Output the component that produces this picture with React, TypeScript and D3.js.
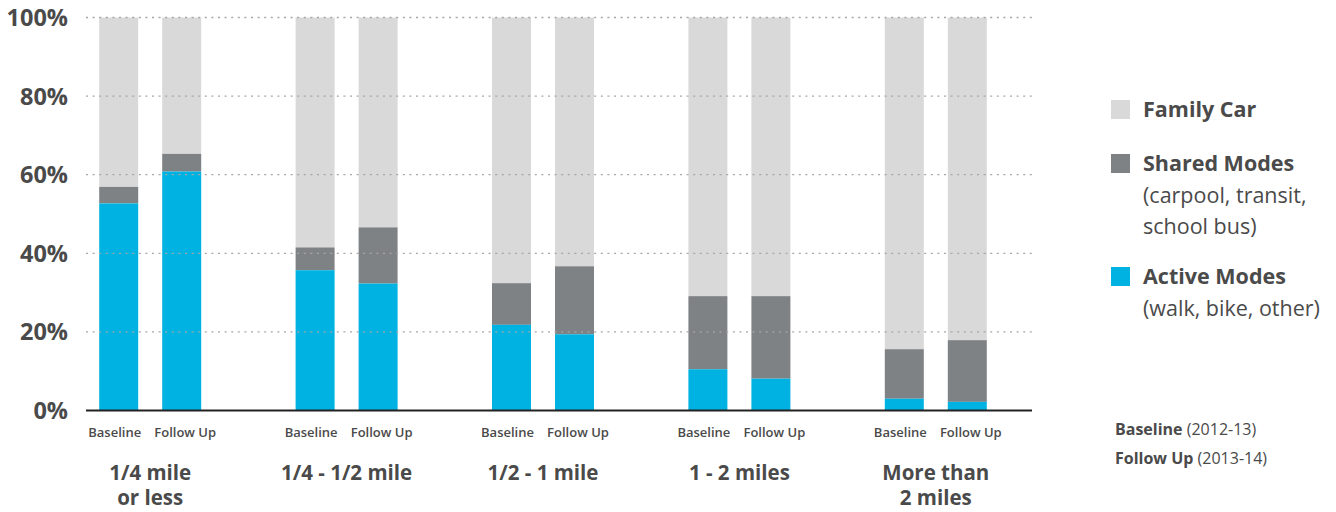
import React from "react";
import * as d3 from "d3";

const categories = ["1/4 mile\nor less", "1/4 - 1/2 mile", "1/2 - 1 mile", "1 - 2 miles", "More than\n2 miles"];
const periods = ["Baseline", "Follow Up"];
// percentages per category: [baseline, follow up]
const activeModes = [[52.7, 60.8], [35.7, 32.3], [21.8, 19.4], [10.5, 8.1], [3.0, 2.2]];
const sharedModes = [[4.2, 4.5], [5.8, 14.3], [10.6, 17.3], [18.6, 21.0], [12.6, 15.7]];
const yTicks = [0, 20, 40, 60, 80, 100];
const legendItems = [
  { key: "car", title: "Family Car", sub: [] as string[] },
  { key: "shared", title: "Shared Modes", sub: ["(carpool, transit,", "school bus)"] },
  { key: "active", title: "Active Modes", sub: ["(walk, bike, other)"] },
];
const periodNotes = [["Baseline", "(2012-13)"], ["Follow Up", "(2013-14)"]];

const COLORS: Record<string, string> = { car: "#d9d9d9", shared: "#7f8285", active: "#00b2e1" };
const TEXT = "#4a4a4a";
const FONT = "'Open Sans', 'Noto Sans', sans-serif";

export default function App() {
  const W = 1336, H = 512;
  const y = d3.scaleLinear().domain([0, 100]).range([410.5, 17.5]);
  const x0 = d3.scaleBand<string>().domain(categories).range([52, 1034]).paddingInner(0).paddingOuter(0);
  const x1 = d3.scaleBand<string>().domain(periods).range([x0.bandwidth() / 2 - 51, x0.bandwidth() / 2 + 51]).paddingInner(0.381).paddingOuter(0);
  const labelShift = [-4, 3.5];

  const bars: React.ReactNode[] = [];
  categories.forEach((c, ci) => {
    periods.forEach((p, pi) => {
      const bx = (x0(c) as number) + (x1(p) as number);
      const bw = x1.bandwidth();
      const a = activeModes[ci][pi];
      const s = sharedModes[ci][pi];
      bars.push(
        <g key={c + p}>
          <rect x={bx} width={bw} y={y(100)} height={y(a + s) - y(100)} fill={COLORS.car} />
          <rect x={bx} width={bw} y={y(a + s)} height={y(a) - y(a + s)} fill={COLORS.shared} />
          <rect x={bx} width={bw} y={y(a)} height={y(0) - y(a)} fill={COLORS.active} />
          <text x={bx + bw / 2 + labelShift[pi]} y={436.5} textAnchor="middle" fontSize={13} fontWeight={600} fill={TEXT}>{p}</text>
        </g>
      );
    });
  });

  return (
    <svg width={W} height={H} style={{ position: "absolute", left: 0, top: 0, fontFamily: FONT }}>
      {bars}
      {yTicks.filter((t) => t > 0).map((t) => (
        <line key={t} x1={86} x2={1032} y1={y(t)} y2={y(t)} stroke="#a6a6a6" strokeWidth={1.3} strokeDasharray="2 4.6" />
      ))}
      <line x1={86} x2={1032} y1={y(0)} y2={y(0)} stroke="#222" strokeWidth={2} />
      {yTicks.map((t) => (
        <text key={t} x={68} y={y(t) + 8.5} textAnchor="end" fontSize={23.5} fontWeight={700} fill={TEXT}>{t}%</text>
      ))}
      {categories.map((c) => {
        const cx = (x0(c) as number) + x0.bandwidth() / 2;
        return (
          <text key={c} x={cx} textAnchor="middle" fontSize={20.5} fontWeight={700} fill={TEXT}>
            {c.split("\n").map((l, i) => (
              <tspan key={i} x={cx} y={479.5 + i * 25.5}>{l}</tspan>
            ))}
          </text>
        );
      })}
      {legendItems.map((it, i) => {
        const top = [100, 154, 267][i];
        return (
          <g key={it.key}>
            <rect x={1111} y={top} width={19} height={19} fill={COLORS[it.key]} />
            <text x={1143} y={top + 17} fontSize={21.5} fontWeight={700} fill={TEXT}>{it.title}</text>
            {it.sub.map((s, j) => (
              <text key={j} x={1143} y={top + 49 + j * 31} fontSize={21.5} fill={TEXT}>{s}</text>
            ))}
          </g>
        );
      })}
      {periodNotes.map((n, i) => (
        <text key={i} x={1115} y={435 + i * 29} fontSize={16} fill={TEXT}>
          <tspan fontWeight={700}>{n[0]}</tspan>
          <tspan> {n[1]}</tspan>
        </text>
      ))}
    </svg>
  );
}
